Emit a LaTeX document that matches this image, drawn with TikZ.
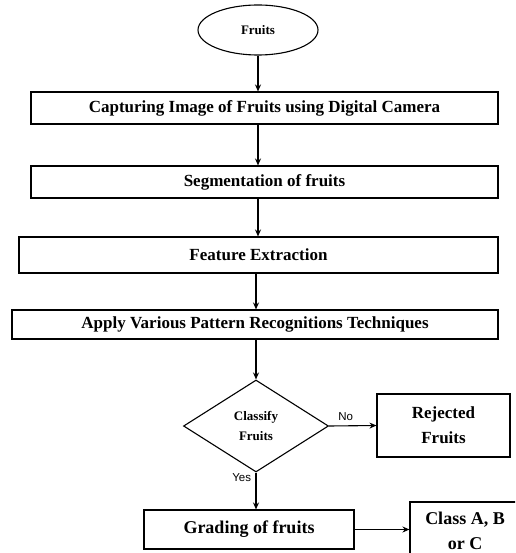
\documentclass[tikz,border=0pt]{standalone}
\usepackage{fontspec}
\setmainfont{Liberation Serif}
\newfontfamily\yesnofont{Liberation Sans}
\usetikzlibrary{shapes.geometric, arrows.meta, positioning}

\begin{document}
\begin{tikzpicture}[x=1pt, y=-1pt, line width=1.1pt, >={Stealth[length=7pt,width=6pt]},
  stepbox/.style={draw, rectangle, inner sep=0pt, align=center,
    font=\bfseries\fontsize{17}{19}\selectfont},
  decision/.style={draw, diamond, inner sep=0pt, align=center,
    font=\bfseries\fontsize{13}{20}\selectfont},
  flow/.style={->},
  answer/.style={font=\yesnofont\fontsize{11.5}{13}\selectfont}]
% Page
\clip (0,0) rectangle (515,553);

% Start
\node[draw, ellipse, inner sep=0pt, minimum width=120pt, minimum height=50pt,
      font=\bfseries\fontsize{13}{15}\selectfont] (fruits) at (258,30) {Fruits};

% Processing steps
\node[stepbox, minimum width=467pt, minimum height=32pt] (capture) at (264.5,108)
  {Capturing Image of Fruits using Digital Camera};
\node[stepbox, minimum width=467pt, minimum height=32pt] (segment) at (264.5,182)
  {Segmentation of fruits};
\node[stepbox, minimum width=479pt, minimum height=36pt] (feature) at (258.5,255)
  {Feature Extraction};
\node[stepbox, minimum width=486pt, minimum height=29pt] (pattern) at (255,324.5)
  {Apply Various Pattern Recognitions Techniques};

% Decision and outcomes
\node[decision, minimum width=145pt, minimum height=92pt] (classify) at (256,426)
  {Classify\\Fruits};
\node[stepbox, minimum width=133pt, minimum height=63pt,
      font=\bfseries\fontsize{17}{25}\selectfont] (rejected) at (443.5,425.5)
  {Rejected\\Fruits};
\node[stepbox, minimum width=210pt, minimum height=39pt,
      font=\bfseries\fontsize{18}{21}\selectfont] (grading) at (249,529.5)
  {Grading of fruits};
\node[stepbox, minimum width=110pt, minimum height=58pt,
      font=\bfseries\fontsize{18}{25}\selectfont] (classes) at (465,531)
  {Class A, B\\or C};

% Connectors
\draw[flow] (fruits.south) -- (fruits.south |- capture.north);
\draw[flow] (fruits.south |- capture.south) -- (fruits.south |- segment.north);
\draw[flow] (fruits.south |- segment.south) -- (fruits.south |- feature.north);
\draw[flow] (classify.north |- feature.south) -- (classify.north |- pattern.north);
\draw[flow] (classify.north |- pattern.south) -- (classify.north);
\draw[flow] (classify.east) -- (rejected.west)
  node[answer, pos=0.35, above=1pt] {No};
\draw[flow] (classify.south) -- (classify.south |- grading.north)
  node[answer, pos=0.15, left=1pt] {Yes};
\draw[flow] (grading.east) -- (grading.east -| classes.west);

\end{tikzpicture}
\end{document}
